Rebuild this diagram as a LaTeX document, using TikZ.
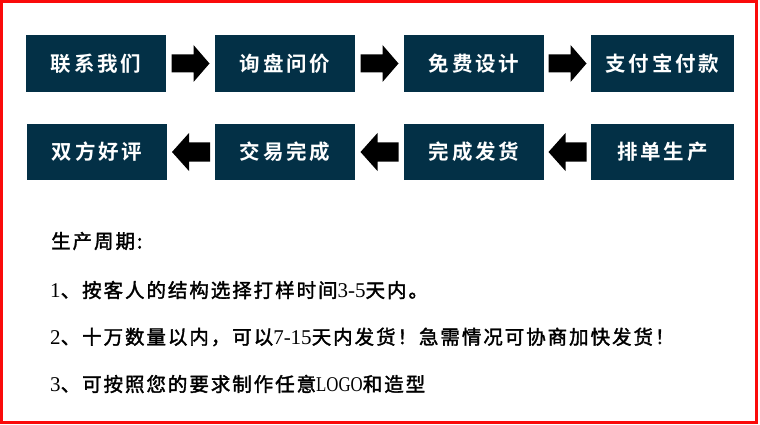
\documentclass[tikz,border=0pt]{standalone}
\usepackage{fontspec}
\setmainfont{Noto Sans CJK SC}
\newfontfamily\cjk[LetterSpace=10,FakeBold=1.8]{Noto Sans CJK SC}
\newfontfamily\cjkbox[LetterSpace=14]{Noto Sans CJK SC Bold}
\newfontfamily\digfont{Liberation Serif}
\newfontfamily\logofont[FakeStretch=0.8]{Liberation Serif}
\newcommand\dig[1]{{\digfont\fontsize{21}{24}\selectfont #1}}
\usetikzlibrary{calc}
\definecolor{boxblue}{RGB}{3,48,70}
\definecolor{frame}{RGB}{250,10,10}
\tikzset{
  stepbox/.style={fill=boxblue, draw=none, minimum width=140, minimum height=56.5, inner sep=0,
    text=white, font=\cjkbox\fontsize{20.5}{23}\selectfont},
  infotext/.style={anchor=west, inner sep=0, text=black, font=\cjk\fontsize{19.5}{22}\selectfont},
}
\newcommand\rblk[1]{\fill[black] (#1) ++(-19,-9) -- ++(22,0) -- ++(0,-9.5) -- ++(16,18.5) -- ++(-16,18.5) -- ++(0,-9.5) -- ++(-22,0) -- cycle;}
\newcommand\lblk[1]{\fill[black] (#1) ++(19,-9.5) -- ++(-21,0) -- ++(0,-9.5) -- ++(-17,19) -- ++(17,19) -- ++(0,-9.5) -- ++(21,0) -- cycle;}
\begin{document}
\begin{tikzpicture}[x=1pt,y=-1pt]
\useasboundingbox (0,0) rectangle (760,425);
\fill[white] (0,0) rectangle (760,425);
\draw[frame, line width=3] (1.5,1.5) rectangle (756.5,422.5);
% row 1
\node[stepbox] (b1) at (96,63.5) {联系我们};
\node[stepbox] (b2) at (285,63.5) {询盘问价};
\node[stepbox] (b3) at (474,63.5) {免费设计};
\node[stepbox, minimum width=143] (b4) at (662.5,63.5) {支付宝付款};
% row 2
\node[stepbox] (c1) at (97,152) {双方好评};
\node[stepbox] (c2) at (285,152) {交易完成};
\node[stepbox] (c3) at (474,152) {完成发货};
\node[stepbox, minimum width=143] (c4) at (662.5,152) {排单生产};
% arrows
\coordinate (m1) at ($(b1.east)!0.5!(b2.west)$);
\coordinate (m2) at ($(b2.east)!0.5!(b3.west)$);
\coordinate (m3) at ($(b3.east)!0.5!(b4.west)$);
\coordinate (n1) at ($(c1.east)!0.5!(c2.west)$);
\coordinate (n2) at ($(c2.east)!0.5!(c3.west)$);
\coordinate (n3) at ($(c3.east)!0.5!(c4.west)$);
\rblk{m1}\rblk{m2}\rblk{m3}
\lblk{n1}\lblk{n2}\lblk{n3}
% text
\node[infotext] (t0) at (51,241) {生产周期:};
\node[infotext] (t1) at (50,290) {\dig{1}、按客人的结构选择打样时间\dig{3-5}天内。};
\node[infotext] (t2) at (50,337) {\dig{2}、十万数量以内，可以\dig{7-15}天内发货！急需情况可协商加快发货！};
\node[infotext] (t3) at (50,384) {\dig{3}、可按照您的要求制作任意{\logofont\fontsize{21}{24}\selectfont LOGO}和造型};
\end{tikzpicture}
\end{document}
